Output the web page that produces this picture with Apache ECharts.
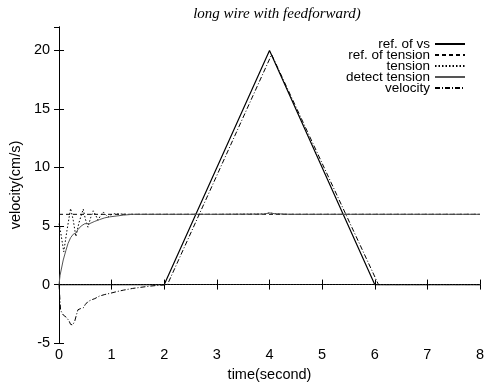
<!DOCTYPE html>
<html>
<head>
<meta charset="utf-8">
<script src="https://cdn.jsdelivr.net/npm/echarts@6/dist/echarts.min.js"></script>
<style>
  html, body { margin: 0; padding: 0; background: #fff; }
  #chart { width: 488px; height: 387px; }
</style>
</head>
<body>
<div id="chart"></div>
<script>
// time axis ticks
var xTicks = [0, 1, 2, 3, 4, 5, 6, 7, 8];

// ref. of vs (trapezoid speed reference)
var refVsT = [0, 2, 4, 6, 8];
var refVsV = [0, 0, 20, 0, 0];

// ref. of tension
var refTenT = [0, 8];
var refTenV = [6, 6];

// tension (oscillates then settles)
var tenT = [0, 0.03, 0.09, 0.15, 0.22, 0.27, 0.32, 0.38, 0.46, 0.50, 0.55, 0.60, 0.65, 0.70, 0.74, 0.79, 0.84, 0.89, 0.93, 0.98, 1.05, 1.3, 2.0, 3.0, 3.9, 4.0, 4.1, 4.3, 5.0, 6.0, 8.0];
var tenV = [5.2, 4.5, 2.8, 4.6, 6.5, 5.5, 4.1, 5.3, 6.45, 5.6, 4.9, 5.7, 6.3, 5.9, 5.5, 5.9, 6.2, 5.95, 5.76, 5.95, 6.05, 6.0, 6.0, 6.0, 6.03, 6.12, 6.05, 6.0, 6.0, 6.0, 6.0];

// detect tension (smooth rise)
var detT = [0, 0.02, 0.08, 0.13, 0.17, 0.22, 0.27, 0.32, 0.36, 0.42, 0.49, 0.58, 0.68, 0.77, 0.87, 0.96, 1.1, 1.22, 1.4, 2.0, 3.0, 3.9, 4.0, 4.1, 4.4, 5.0, 6.0, 8.0];
var detV = [0, 0.8, 2.1, 2.9, 3.5, 4.0, 4.3, 4.4, 4.7, 5.0, 5.2, 5.2, 5.4, 5.55, 5.7, 5.78, 5.86, 5.93, 6.0, 6.0, 6.0, 6.02, 6.12, 6.05, 6.0, 6.0, 6.0, 6.0];

// velocity
var velT = [0, 0.03, 0.08, 0.14, 0.19, 0.22, 0.26, 0.30, 0.33, 0.36, 0.41, 0.46, 0.50, 0.55, 0.62, 0.68, 0.77, 0.87, 0.96, 1.1, 1.22, 1.4, 1.53, 1.7, 1.85, 2.0, 2.06, 4.04, 6.07, 8.0];
var velV = [0, -2.2, -2.6, -2.8, -3.1, -3.4, -3.45, -3.1, -2.6, -2.15, -2.05, -2.0, -1.7, -1.45, -1.3, -1.2, -0.98, -0.85, -0.76, -0.6, -0.48, -0.33, -0.25, -0.15, -0.08, -0.03, 0, 19.65, 0, 0];

var yTicks = [-5, 0, 5, 10, 15, 20];

function zip(t, v) {
  var out = [];
  for (var i = 0; i < t.length; i++) out.push([t[i], v[i]]);
  return out;
}

var font = 'Liberation Sans, Arial, sans-serif';

var chart = echarts.init(document.getElementById('chart'));

var axisCommon = {
  axisLine: { show: true, lineStyle: { color: '#000', width: 1 } },
  axisTick: { show: true, inside: true, length: 5, lineStyle: { color: '#000' } },
  splitLine: { show: false }
};

var option = {
  animation: false,
  backgroundColor: '#fff',
  title: {
    text: 'long wire with feedforward)',
    left: 272,
    textAlign: 'center',
    top: 2,
    textStyle: { fontFamily: 'Liberation Serif, Times New Roman, serif', fontStyle: 'italic', fontWeight: 'normal', fontSize: 15, color: '#000' }
  },
  grid: { left: 57, right: 8, top: 27, bottom: 42 },
  legend: {
    orient: 'vertical',
    right: 17,
    top: 32,
    align: 'right',
    itemWidth: 30,
    itemHeight: 8,
    itemGap: -3,
    itemStyle: { opacity: 0 },
    formatter: function (name) { return '{n|' + name + '}'; },
    textStyle: {
      color: '#000',
      fontFamily: font,
      fontSize: 13.5,
      rich: { n: { width: 96, align: 'right', fontSize: 13.5, fontFamily: font, color: '#000', lineHeight: 14 } }
    },
    data: ['ref. of vs', 'ref. of tension', 'tension', 'detect tension', 'velocity']
  },
  xAxis: [
    Object.assign({}, axisCommon, {
      type: 'value', min: xTicks[0], max: xTicks[xTicks.length - 1], interval: 1, position: 'bottom',
      name: 'time(second)', nameLocation: 'middle', nameGap: 23,
      nameTextStyle: { fontFamily: font, fontSize: 14.5, color: '#000' },
      axisLabel: { fontFamily: font, fontSize: 14.5, color: '#000', margin: 4 }
    }),
    Object.assign({}, axisCommon, {
      type: 'value', min: xTicks[0], max: xTicks[xTicks.length - 1], interval: 1, position: 'top',
      axisLabel: { show: false }
    })
  ],
  yAxis: [
    Object.assign({}, axisCommon, {
      type: 'value', min: yTicks[0], max: 22, interval: 5, position: 'left',
      name: 'velocity(cm/s)', nameLocation: 'middle', nameGap: 23, nameRotate: 90,
      nameTextStyle: { fontFamily: font, fontSize: 14.5, color: '#000' },
      axisLabel: { fontFamily: font, fontSize: 14.5, color: '#000', margin: 9, showMaxLabel: false }
    }),
    Object.assign({}, axisCommon, {
      type: 'value', min: yTicks[0], max: 22, interval: 5, position: 'right',
      axisLabel: { show: false }
    })
  ],
  series: [
    {
      name: 'ref. of vs', type: 'line', showSymbol: false, symbol: 'none',
      data: zip(refVsT, refVsV),
      lineStyle: { color: '#000', width: 1.2, type: 'solid' }, itemStyle: { color: '#000' },
      markLine: {
        silent: true, symbol: 'none', label: { show: false },
        lineStyle: { color: '#222', width: 1, type: [1, 2] },
        data: [{ yAxis: 0 }]
      }
    },
    {
      name: 'ref. of tension', type: 'line', showSymbol: false, symbol: 'none',
      data: zip(refTenT, refTenV),
      lineStyle: { color: '#000', width: 1, type: [4, 3] }, itemStyle: { color: '#000' }
    },
    {
      name: 'tension', type: 'line', showSymbol: false, symbol: 'none',
      data: zip(tenT, tenV),
      lineStyle: { color: '#000', width: 1, type: [1.5, 2] }, itemStyle: { color: '#000' }
    },
    {
      name: 'detect tension', type: 'line', showSymbol: false, symbol: 'none',
      data: zip(detT, detV),
      lineStyle: { color: '#555', width: 1, type: 'solid' }, itemStyle: { color: '#555' }
    },
    {
      name: 'velocity', type: 'line', showSymbol: false, symbol: 'none',
      data: zip(velT, velV),
      lineStyle: { color: '#000', width: 1, type: [5, 2, 1, 2] }, itemStyle: { color: '#000' }
    }
  ]
};

chart.setOption(option);
</script>
</body>
</html>
